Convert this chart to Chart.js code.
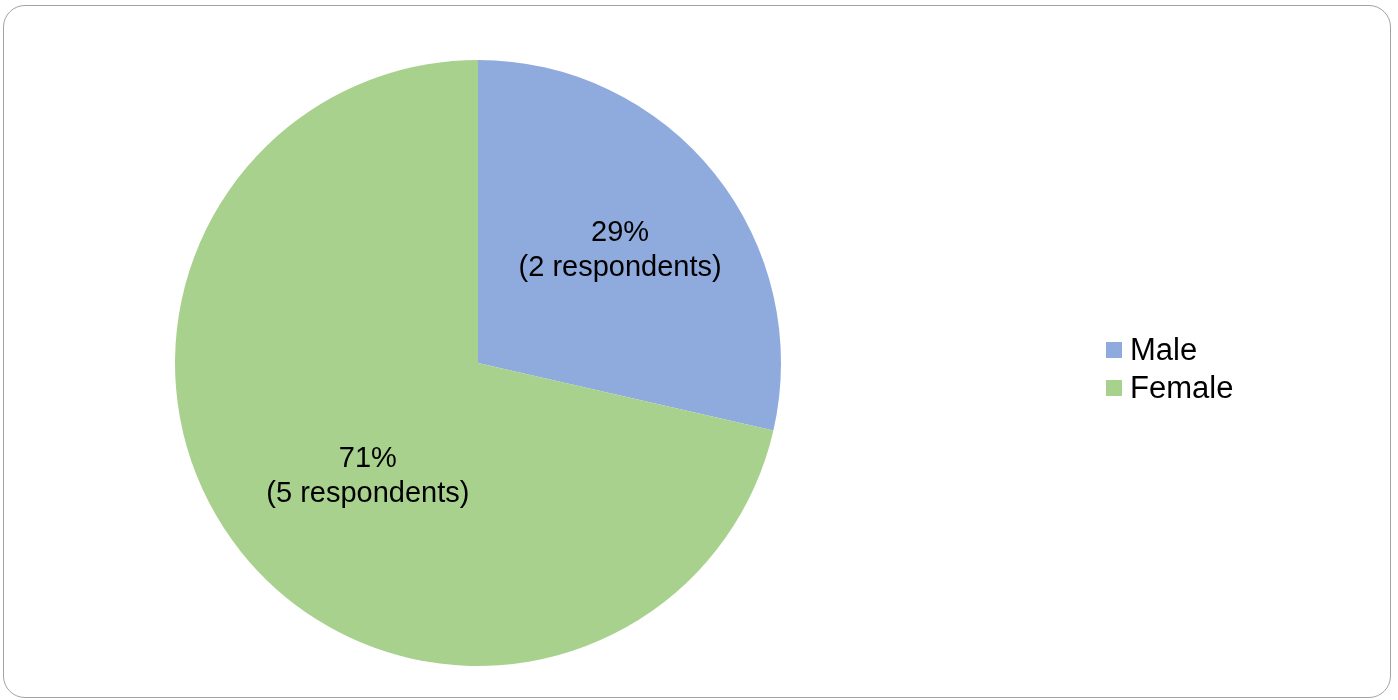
<!DOCTYPE html>
<html>
<head>
<meta charset="utf-8">
<script src="https://cdn.jsdelivr.net/npm/chart.js@4/dist/chart.umd.min.js"></script>
<style>
  body { margin: 0; background: #fff; font-family: "Liberation Sans", Arial, sans-serif; }
  .frame {
    position: absolute; left: 3px; top: 5px; width: 1386px; height: 691px;
    border: 1.5px solid #a3a3a3; border-radius: 22px;
  }
  .wrap { position: absolute; left: 0; top: 0; width: 1398px; height: 700px; }
  .legend { position: absolute; left: 1106px; top: 331px; }
  .legend .row { height: 38px; display: flex; align-items: center; font-size: 31px; color: #000; }
  .legend .box { width: 16px; height: 16px; margin-right: 8px; }
</style>
</head>
<body>
<div class="frame"></div>
<div class="wrap"><canvas id="pie"></canvas></div>
<div class="legend" id="legend"></div>
<script>
const categories = ["Male", "Female"];
const respondents = [2, 5];
const sliceColors = ["#8FAADC", "#A9D18E"];
// Female label sits a bit toward the centre line, as in the original layout
const labelNudgeX = [0, 32];

const total = respondents.reduce((a, b) => a + b, 0);

const sliceLabels = {
  id: "sliceLabels",
  afterDatasetsDraw(chart) {
    const ctx = chart.ctx;
    const arcs = chart.getDatasetMeta(0).data;
    ctx.save();
    ctx.font = "29px 'Liberation Sans', Arial, sans-serif";
    ctx.fillStyle = "#000";
    ctx.textAlign = "center";
    ctx.textBaseline = "middle";
    arcs.forEach((arc, i) => {
      const p = arc.getProps(["x", "y", "startAngle", "endAngle", "outerRadius"], true);
      const mid = (p.startAngle + p.endAngle) / 2;
      const r = p.outerRadius * 0.6;
      const x = p.x + Math.cos(mid) * r + labelNudgeX[i];
      const y = p.y + Math.sin(mid) * r;
      const pct = Math.round(respondents[i] / total * 100) + "%";
      ctx.fillText(pct, x, y - 17);
      ctx.fillText("(" + respondents[i] + " respondents)", x, y + 18);
    });
    ctx.restore();
  }
};

const chart = new Chart(document.getElementById("pie"), {
  type: "pie",
  data: {
    labels: categories,
    datasets: [{
      data: respondents,
      backgroundColor: sliceColors,
      borderWidth: 0
    }]
  },
  options: {
    responsive: true,
    maintainAspectRatio: false,
    animation: false,
    layout: { padding: { left: 175, top: 60, right: 617, bottom: 34 } },
    plugins: {
      legend: { display: false },
      tooltip: { enabled: false }
    }
  },
  plugins: [sliceLabels]
});

// legend built from the same arrays
const legendEl = document.getElementById("legend");
categories.forEach((name, i) => {
  const row = document.createElement("div");
  row.className = "row";
  const box = document.createElement("span");
  box.className = "box";
  box.style.background = sliceColors[i];
  const txt = document.createElement("span");
  txt.textContent = name;
  row.appendChild(box);
  row.appendChild(txt);
  legendEl.appendChild(row);
});
</script>
</body>
</html>
